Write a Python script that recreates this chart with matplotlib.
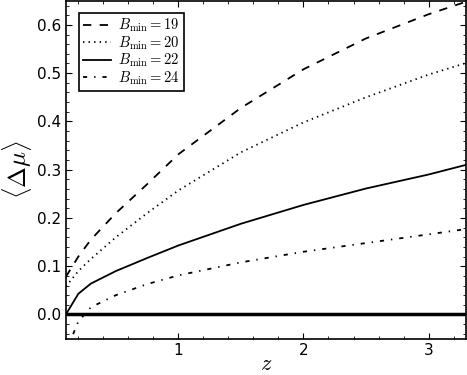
# Mean magnitude offset vs redshift for several B_min cuts

import numpy as np
import matplotlib
matplotlib.use('Agg')
import matplotlib.pyplot as plt
from matplotlib.ticker import MultipleLocator

params = {'mathtext.fontset': 'cm',
          'font.size': 11,
          'xtick.direction': 'in',
          'ytick.direction': 'in',
          'xtick.top': True,
          'ytick.right': True,
          'xtick.major.size': 4,
          'ytick.major.size': 4,
          'xtick.minor.size': 2,
          'ytick.minor.size': 2,
          'lines.scale_dashes': False}
plt.rcParams.update(params)

# %% data
z = [0.1, 0.2, 0.3, 0.5, 0.75, 1.0, 1.5, 2.0, 2.5, 3.0, 3.3]
dmu_19 = [0.078, 0.12, 0.155, 0.21, 0.27, 0.332, 0.428, 0.508, 0.572, 0.622, 0.648]
dmu_20 = [0.058, 0.09, 0.115, 0.16, 0.21, 0.257, 0.336, 0.398, 0.45, 0.497, 0.521]
dmu_22 = [0.0, 0.043, 0.064, 0.09, 0.117, 0.143, 0.188, 0.227, 0.261, 0.29, 0.31]
dmu_24 = [-0.078, -0.014, 0.015, 0.04, 0.063, 0.081, 0.108, 0.13, 0.148, 0.166, 0.177]
bmin = [19, 20, 22, 24]

series = [dmu_19, dmu_20, dmu_22, dmu_24]
dashes = [(6, 6), (1, 3), (), (3, 5, 1, 5)]

# %% plot
fig = plt.figure(figsize=(4.67, 3.75), dpi=100)
ax = fig.add_axes([0.141, 0.097, 0.857, 0.901])

for b, v, d in zip(bmin, series, dashes):
    if d:
        ax.plot(z, v, color='k', lw=1.3, dashes=d, label=r'$B_{\rm min}=%d$' % b)
    else:
        ax.plot(z, v, color='k', lw=1.3, ls='-', label=r'$B_{\rm min}=%d$' % b)

ax.axhline(0.0, color='k', lw=2.5)

ax.set_xlim(0.1, 3.3)
ax.set_ylim(-0.05, 0.65)
ax.xaxis.set_major_locator(MultipleLocator(1))
ax.xaxis.set_minor_locator(MultipleLocator(0.2))
ax.yaxis.set_major_locator(MultipleLocator(0.1))
ax.yaxis.set_minor_locator(MultipleLocator(0.02))

ax.set_xlabel(r'$z$', fontsize=16, labelpad=-3)
ax.set_ylabel(r'$\langle\Delta\mu\rangle$', fontsize=18, labelpad=2)

for s in ax.spines.values():
    s.set_linewidth(1.2)

leg = ax.legend(loc='upper left', fontsize=10.5, handlelength=1.9,
                labelspacing=0.0, borderpad=0.3, handletextpad=0.5,
                borderaxespad=0, fancybox=False, framealpha=1, edgecolor='k',
                bbox_to_anchor=(0.032, 0.965))
leg.get_frame().set_linewidth(1.2)

plt.savefig('out.png', dpi=100)
